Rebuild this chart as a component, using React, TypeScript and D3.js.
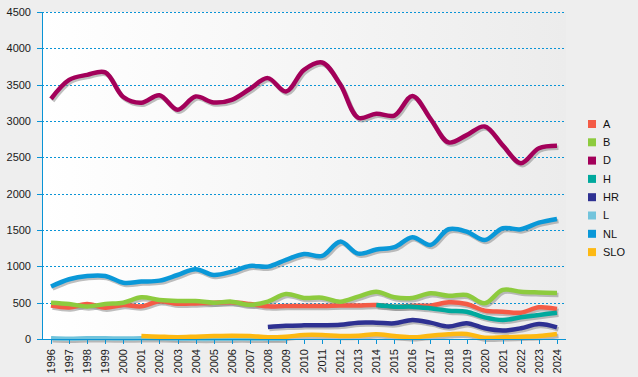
import React from "react";
import * as d3 from "d3";

const years = [
  1996, 1997, 1998, 1999, 2000, 2001, 2002, 2003, 2004, 2005, 2006, 2007, 2008, 2009,
  2010, 2011, 2012, 2013, 2014, 2015, 2016, 2017, 2018, 2019, 2020, 2021, 2022, 2023, 2024,
];
const yTicks = [0, 500, 1000, 1500, 2000, 2500, 3000, 3500, 4000, 4500];
const seriesNames = ["A", "B", "D", "H", "HR", "L", "NL", "SLO"];
const seriesColors = ["#f45b46", "#8dcb3e", "#a3005a", "#00a99d", "#2e3192", "#72c4dc", "#0a98d8", "#fdb913"];

// null = no value
const valuesA = [460, 435, 480, 430, 468, 450, 520, 485, 490, 500, 505, 482, 450, 455, 455, 455, 460, 462, 468, 445, 459, 459, 505, 482, 390, 376, 362, 436, 413];
const valuesB = [500, 482, 448, 482, 500, 574, 537, 523, 523, 500, 514, 470, 514, 620, 565, 569, 514, 583, 650, 575, 565, 629, 595, 606, 491, 675, 651, 640, 632];
const valuesD = [3305, 3566, 3635, 3670, 3330, 3250, 3355, 3155, 3338, 3255, 3292, 3440, 3590, 3406, 3704, 3805, 3505, 3045, 3100, 3075, 3345, 3030, 2705, 2805, 2925, 2665, 2420, 2625, 2660];
const valuesH = [null, null, null, null, null, null, null, null, null, null, null, null, null, null, null, null, null, null, 468, 445, 445, 422, 390, 376, 298, 262, 298, 330, 362];
const valuesHR = [null, null, null, null, null, null, null, null, null, null, null, null, 165, 182, 188, 190, 195, 225, 225, 216, 262, 225, 172, 216, 147, 117, 147, 206, 161];
const valuesL = [12, 5, 10, 10, 6, 10, 10, 5, 2, 2, 5, 5, 2, 2, null, null, null, null, null, null, null, null, null, null, null, null, null, null, null];
const valuesNL = [722, 822, 867, 867, 775, 790, 803, 881, 960, 881, 927, 1005, 996, 1090, 1170, 1143, 1340, 1175, 1232, 1263, 1400, 1294, 1510, 1478, 1363, 1524, 1510, 1601, 1652];
const valuesSLO = [null, null, null, null, null, 41, 32, 25, 32, 41, 46, 41, 24, 32, 55, 55, 41, 46, 64, 41, 23, 46, 64, 69, 18, 23, 32, 41, 69];

const seriesValues = [valuesA, valuesB, valuesD, valuesH, valuesHR, valuesL, valuesNL, valuesSLO];

const W = 638;
const H = 377;
const plotLeft = 42;
const plotRight = 566;
const plotTop = 12;
const plotBottom = 339;
const axisColor = "#0a94d6";
const font = "'Liberation Sans', Arial, sans-serif";

export default function App() {
  const x = d3
    .scaleBand<number>()
    .domain(years)
    .range([plotLeft, plotRight])
    .padding(0);
  const xc = (yr: number) => (x(yr) as number) + x.bandwidth() / 2;
  const y = d3.scaleLinear().domain([0, 4500]).range([plotBottom, plotTop]);

  const line = d3
    .line<number | null>()
    .defined((d) => d !== null)
    .x((_, i) => xc(years[i]))
    .y((d) => y(d as number))
    .curve(d3.curveCatmullRom.alpha(0.5));

  return (
    <svg
      width={W}
      height={H}
      style={{ position: "absolute", left: 0, top: 0, display: "block", background: "#eeeeee" }}
    >
      <defs>
        <linearGradient id="plotbg" x1="0" y1="0" x2="1" y2="0">
          <stop offset="0" stopColor="#ffffff" />
          <stop offset="1" stopColor="#ececec" />
        </linearGradient>
      </defs>
      <rect x={plotLeft} y={plotTop} width={plotRight - plotLeft} height={plotBottom - plotTop} fill="url(#plotbg)" />
      {/* grid lines */}
      {yTicks.map((t) =>
        t === 0 ? null : (
          <line
            key={"g" + t}
            x1={plotLeft}
            x2={plotRight - 1}
            y1={Math.round(y(t)) + 0.5}
            y2={Math.round(y(t)) + 0.5}
            stroke={axisColor}
            strokeWidth={1}
            strokeDasharray="2,2"
          />
        )
      )}
      {/* shadows */}
      {seriesValues.map((vals, i) => (
        <path
          key={"s" + i}
          d={line(vals) || ""}
          fill="none"
          stroke="#8a8a8a"
          strokeOpacity={0.55}
          strokeWidth={4.5}
          transform="translate(1.5,2)"
        />
      ))}
      {/* lines */}
      {seriesValues.map((vals, i) => (
        <path
          key={"l" + i}
          d={line(vals) || ""}
          fill="none"
          stroke={seriesColors[i]}
          strokeWidth={4.5}
          strokeLinejoin="round"
        />
      ))}
      {/* axes */}
      <line x1={plotLeft + 0.5} x2={plotLeft + 0.5} y1={plotTop} y2={plotBottom + 1} stroke={axisColor} strokeWidth={1} />
      <line x1={plotLeft} x2={plotRight} y1={plotBottom + 0.5} y2={plotBottom + 0.5} stroke={axisColor} strokeWidth={1} />
      {yTicks.map((t) => (
        <g key={"yt" + t}>
          <line
            x1={37}
            x2={plotLeft}
            y1={Math.round(y(t)) + 0.5}
            y2={Math.round(y(t)) + 0.5}
            stroke={axisColor}
            strokeWidth={1}
          />
          <text
            x={31}
            y={y(t)}
            dy="0.35em"
            textAnchor="end"
            fontFamily={font}
            fontSize={11}
            fill="#1a1a1a"
          >
            {t}
          </text>
        </g>
      ))}
      {years.map((yr) => (
        <g key={"xt" + yr}>
          <line
            x1={Math.round(xc(yr)) + 0.5}
            x2={Math.round(xc(yr)) + 0.5}
            y1={plotBottom}
            y2={plotBottom + 5}
            stroke={axisColor}
            strokeWidth={1}
          />
          <text
            transform={`translate(${xc(yr) + 4},${plotBottom + 10}) rotate(-90)`}
            textAnchor="end"
            fontFamily={font}
            fontSize={11}
            fill="#1a1a1a"
          >
            {yr}
          </text>
        </g>
      ))}
      {/* legend */}
      {seriesNames.map((n, i) => (
        <g key={"lg" + n} transform={`translate(588,${124 + i * 18.3})`}>
          <rect x={0} y={-4} width={8} height={8} fill={seriesColors[i]} />
          <text x={15} y={0} dy="0.35em" fontFamily={font} fontSize={11} fill="#111">
            {n}
          </text>
        </g>
      ))}
    </svg>
  );
}
